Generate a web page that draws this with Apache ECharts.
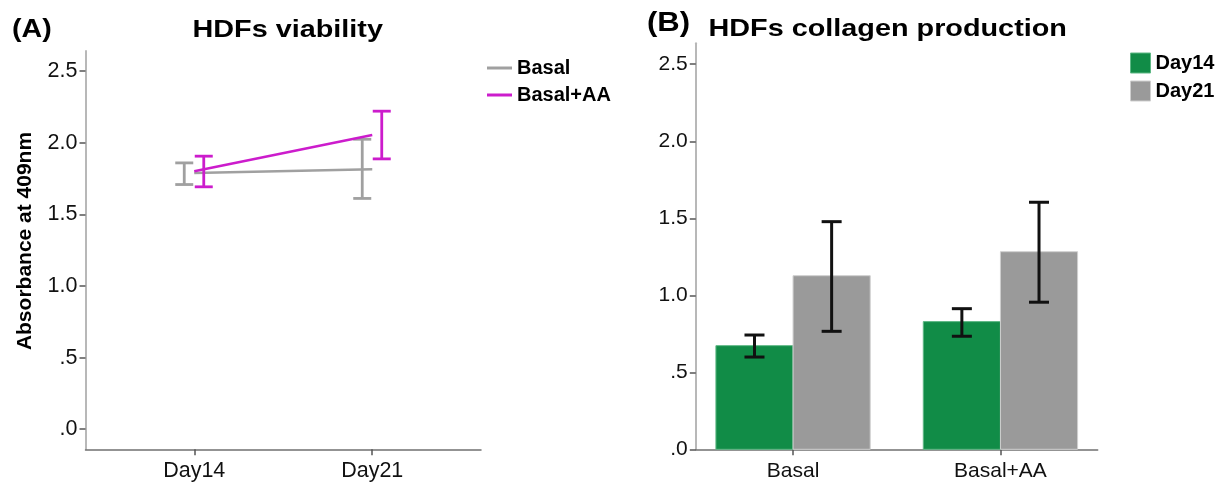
<!DOCTYPE html>
<html>
<head>
<meta charset="utf-8">
<script src="https://cdn.jsdelivr.net/npm/echarts@6/dist/echarts.min.js"></script>
<style>
  html, body { margin: 0; padding: 0; background: #fff; }
  #chart { width: 1231px; height: 486px; }
</style>
</head>
<body>
<div id="chart"></div>
<script>
// (A) viability: mean and error-bar limits per day
const days = ['Day14', 'Day21'];
const basalMean = [1.789, 1.815];
const basalLow  = [1.708, 1.611];
const basalHigh = [1.859, 2.024];
const aaMean    = [1.801, 2.054];
const aaLow     = [1.692, 1.887];
const aaHigh    = [1.906, 2.220];

// (B) collagen production per medium
const groups    = ['Basal', 'Basal+AA'];
const day14Mean = [0.673, 0.829];
const day14Low  = [0.599, 0.734];
const day14High = [0.742, 0.913];
const day21Mean = [1.127, 1.283];
const day21Low  = [0.766, 0.955];
const day21High = [1.478, 1.604];

const yTicks      = [0, 0.5, 1, 1.5, 2, 2.5];
const yTickLabels = ['.0', '.5', '1.0', '1.5', '2.0', '2.5'];

const FONT = "'Liberation Sans', Arial, Helvetica, sans-serif";
const GRAY_LINE = '#a0a0a0';
const MAGENTA = '#cc1ccc';
const GREEN = '#118c47';
const GRAY_BAR = '#9a9a9a';
const BAR_W = 0.372;   // bar width in x-axis units

const chart = echarts.init(document.getElementById('chart'), null, { renderer: 'canvas' });

function errorData(low, high) {
  return low.map((l, i) => [i, l, high[i]]);
}

// whisker with caps; shift is in pixels (or in bar widths when byBar is set)
function errorBar(shift, byBar, capHalf, color, width) {
  return function (params, api) {
    const x = api.value(0);
    const pLo = api.coord([x, api.value(1)]);
    const pHi = api.coord([x, api.value(2)]);
    const dx = byBar ? shift * api.size([BAR_W, 0])[0] : shift;
    const cx = pLo[0] + dx;
    const st = { stroke: color, lineWidth: width, lineCap: 'butt' };
    return {
      type: 'group',
      children: [
        { type: 'line', shape: { x1: cx, y1: pHi[1], x2: cx, y2: pLo[1] }, style: st },
        { type: 'line', shape: { x1: cx - capHalf, y1: pHi[1], x2: cx + capHalf, y2: pHi[1] }, style: st },
        { type: 'line', shape: { x1: cx - capHalf, y1: pLo[1], x2: cx + capHalf, y2: pLo[1] }, style: st }
      ]
    };
  };
}

function barShape(side, fill, edge) {
  return function (params, api) {
    const x = api.value(0);
    const top = api.coord([x, api.value(1)]);
    const base = api.coord([x, 0]);
    const w = api.size([BAR_W, 0])[0];
    const x0 = side < 0 ? top[0] - w : top[0];
    return {
      type: 'rect',
      shape: { x: x0, y: top[1], width: w, height: base[1] - top[1] },
      style: { fill: fill, stroke: edge, lineWidth: 1 }
    };
  };
}

function valueYAxis(gridIndex, max, min, labelSize) {
  return {
    type: 'value', gridIndex: gridIndex, min: min, max: max,
    axisLine: { show: true, onZero: false, lineStyle: { color: '#b8b8b8', width: 2 } },
    axisTick: { show: true, customValues: yTicks, length: 6, lineStyle: { color: '#555', width: 1.5 } },
    axisLabel: {
      customValues: yTicks, margin: 8, color: '#111', fontSize: labelSize, fontFamily: FONT,
      formatter: v => yTickLabels[yTicks.indexOf(Math.round(v * 10) / 10)]
    },
    splitLine: { show: false }
  };
}

function catXAxis(gridIndex, min, max, names, labelSize) {
  return {
    type: 'value', gridIndex: gridIndex, min: min, max: max,
    axisLine: { show: true, onZero: false, lineStyle: { color: '#707070', width: 1.5 } },
    axisTick: { show: true, customValues: [0, 1], length: 6, lineStyle: { color: '#555', width: 1.5 } },
    axisLabel: {
      customValues: [0, 1], margin: 11, color: '#111', fontSize: labelSize, fontFamily: FONT,
      formatter: v => names[Math.round(v)]
    },
    splitLine: { show: false }
  };
}

function titleText(txt, x, y, size, sx) {
  return {
    type: 'text', x: x, y: y, scaleX: sx, scaleY: 1,
    style: {
      text: txt, fill: '#000', font: 'bold ' + size + 'px ' + FONT,
      textAlign: 'left', textVerticalAlign: 'middle'
    }
  };
}

const option = {
  backgroundColor: '#fff',
  animation: false,
  grid: [
    { left: 85.5, top: 51, width: 395.5, height: 398.3 },
    { left: 695.8, top: 43.3, width: 401.9, height: 406 }
  ],
  xAxis: [
    catXAxis(0, -0.611, 1.611, days, 21.5),
    catXAxis(1, -0.469, 1.469, groups, 21)
  ],
  yAxis: [
    valueYAxis(0, 2.64, -0.14, 21.5),
    valueYAxis(1, 2.636, 0, 21)
  ],
  legend: [
    {
      orient: 'vertical', left: 487, top: 57, itemGap: 5, padding: 0,
      itemWidth: 25, itemHeight: 3, icon: 'rect',
      textStyle: { fontSize: 20, fontWeight: 'bold', fontFamily: FONT, color: '#000', lineHeight: 22 },
      data: [
        { name: 'Basal', itemStyle: { color: GRAY_LINE } },
        { name: 'Basal+AA', itemStyle: { color: MAGENTA } }
      ]
    },
    {
      orient: 'vertical', left: 1130, top: 52, itemGap: 6, padding: 0,
      itemWidth: 20, itemHeight: 20, icon: 'rect',
      textStyle: { fontSize: 20, fontWeight: 'bold', fontFamily: FONT, color: '#000', lineHeight: 22 },
      data: [
        { name: 'Day14', itemStyle: { color: GREEN, borderColor: '#5fb885', borderWidth: 1 } },
        { name: 'Day21', itemStyle: { color: GRAY_BAR, borderColor: '#cfcfcf', borderWidth: 1 } }
      ]
    }
  ],
  graphic: [
    titleText('(A)', 12, 30, 26, 1.1),
    titleText('HDFs viability', 192.5, 30, 24, 1.2),
    titleText('(B)', 647, 24, 27, 1.15),
    titleText('HDFs collagen production', 708.5, 29, 24, 1.2),
    {
      type: 'text', x: 25, y: 241, rotation: Math.PI / 2,
      style: {
        text: 'Absorbance at 409nm', fill: '#000', font: 'bold 21px ' + FONT,
        textAlign: 'center', textVerticalAlign: 'middle'
      }
    }
  ],
  series: [
    // (A) mean lines
    {
      name: 'Basal', type: 'line', xAxisIndex: 0, yAxisIndex: 0,
      data: basalMean.map((v, i) => [i, v]), showSymbol: false,
      color: GRAY_LINE, lineStyle: { color: GRAY_LINE, width: 2.5 }, z: 3
    },
    {
      name: 'Basal+AA', type: 'line', xAxisIndex: 0, yAxisIndex: 0,
      data: aaMean.map((v, i) => [i, v]), showSymbol: false,
      color: MAGENTA, lineStyle: { color: MAGENTA, width: 2.5 }, z: 4
    },
    // (A) error bars, drawn beside each point
    {
      name: 'Basal', type: 'custom', xAxisIndex: 0, yAxisIndex: 0,
      data: errorData(basalLow, basalHigh), encode: { x: 0, y: [1, 2] },
      renderItem: errorBar(-10, false, 9, GRAY_LINE, 2.8), z: 3
    },
    {
      name: 'Basal+AA', type: 'custom', xAxisIndex: 0, yAxisIndex: 0,
      data: errorData(aaLow, aaHigh), encode: { x: 0, y: [1, 2] },
      renderItem: errorBar(9.5, false, 9, MAGENTA, 2.8), z: 4
    },
    // (B) bars
    {
      name: 'Day14', type: 'custom', xAxisIndex: 1, yAxisIndex: 1,
      data: day14Mean.map((v, i) => [i, v]), encode: { x: 0, y: 1 },
      itemStyle: { color: GREEN },
      renderItem: barShape(-1, GREEN, '#5fb885'), z: 2
    },
    {
      name: 'Day21', type: 'custom', xAxisIndex: 1, yAxisIndex: 1,
      data: day21Mean.map((v, i) => [i, v]), encode: { x: 0, y: 1 },
      itemStyle: { color: GRAY_BAR },
      renderItem: barShape(1, GRAY_BAR, '#cfcfcf'), z: 2
    },
    // (B) error bars centred on the bars
    {
      type: 'custom', xAxisIndex: 1, yAxisIndex: 1,
      data: errorData(day14Low, day14High), encode: { x: 0, y: [1, 2] },
      renderItem: errorBar(-0.5, true, 10, '#111', 3), z: 5
    },
    {
      type: 'custom', xAxisIndex: 1, yAxisIndex: 1,
      data: errorData(day21Low, day21High), encode: { x: 0, y: [1, 2] },
      renderItem: errorBar(0.5, true, 10, '#111', 3), z: 5
    }
  ]
};

chart.setOption(option);
</script>
</body>
</html>
